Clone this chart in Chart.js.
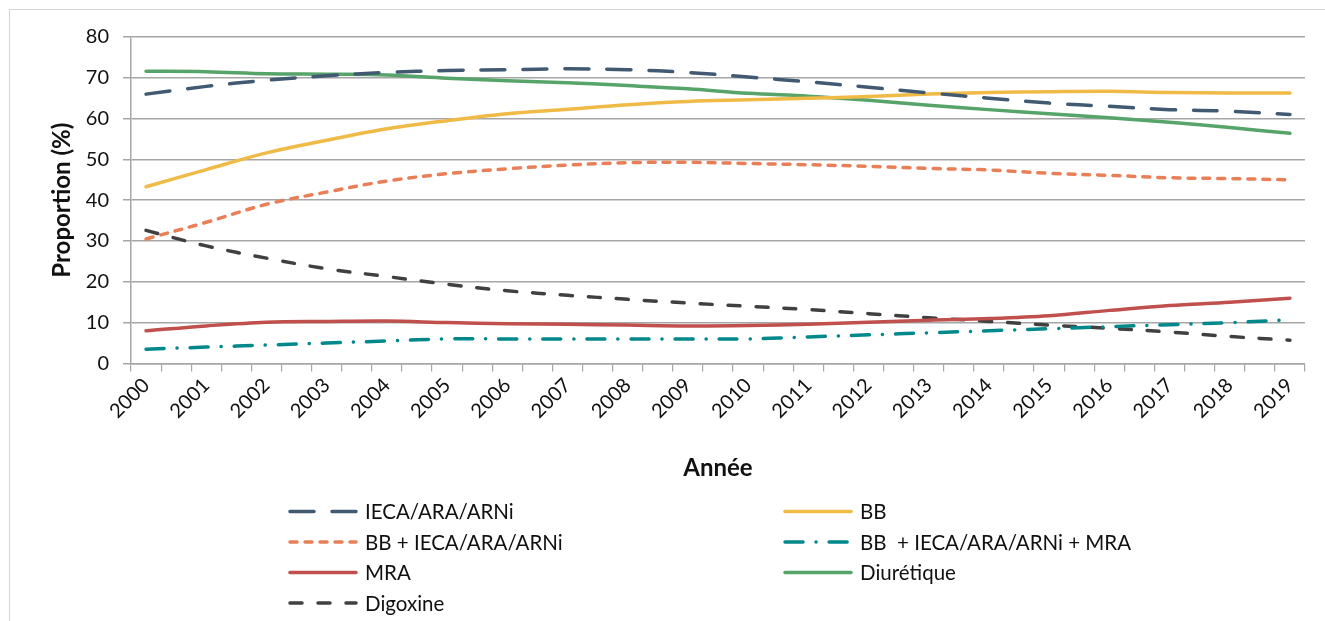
<!DOCTYPE html>
<html lang="fr">
<head>
<meta charset="UTF-8">
<title>Proportion par année</title>
<script src="https://cdn.jsdelivr.net/npm/chart.js"></script>
<style>
    * { margin: 0; padding: 0; box-sizing: border-box; }
    body { width: 1325px; height: 621px; background: #fff; overflow: hidden; position: relative; }
    .frame {
        position: absolute; left: 9px; top: 9px; width: 1400px; height: 700px;
        border-left: 1px solid #d4d4d4; border-top: 1px solid #d4d4d4;
    }
    .wrap { position: absolute; left: 0; top: 0; width: 1325px; height: 621px; }
</style>
</head>
<body>
<div class="frame"></div>
<div class="wrap"><canvas id="chart"></canvas></div>

<script>
    // data
    const years = [2000, 2001, 2002, 2003, 2004, 2005, 2006, 2007, 2008, 2009,
                   2010, 2011, 2012, 2013, 2014, 2015, 2016, 2017, 2018, 2019];
    const yTicks = [0, 10, 20, 30, 40, 50, 60, 70, 80];

    const ieca      = [66.0, 67.9, 69.4, 70.5, 71.3, 71.8, 72.0, 72.2, 72.0, 71.3, 70.2, 69.0, 67.7, 66.3, 65.0, 63.8, 63.0, 62.2, 61.8, 61.0];
    const bb        = [43.3, 47.5, 51.6, 54.7, 57.5, 59.5, 61.2, 62.3, 63.4, 64.2, 64.6, 65.0, 65.4, 66.0, 66.4, 66.6, 66.7, 66.4, 66.3, 66.3];
    const bbIeca    = [30.5, 34.6, 39.0, 42.0, 44.7, 46.5, 47.7, 48.6, 49.2, 49.3, 49.0, 48.7, 48.3, 47.8, 47.4, 46.6, 46.1, 45.5, 45.3, 45.0];
    const bbIecaMra = [3.5, 4.0, 4.5, 5.0, 5.5, 6.0, 6.0, 6.0, 6.0, 6.0, 6.0, 6.5, 7.0, 7.5, 8.0, 8.5, 9.0, 9.5, 10.0, 10.7];
    const mra       = [8.0, 9.2, 10.1, 10.3, 10.4, 10.0, 9.7, 9.6, 9.4, 9.2, 9.3, 9.6, 10.1, 10.6, 11.0, 11.7, 13.0, 14.2, 15.0, 16.0];
    const diuretique= [71.6, 71.5, 71.0, 70.9, 70.7, 69.9, 69.3, 68.8, 68.1, 67.3, 66.2, 65.5, 64.5, 63.3, 62.2, 61.2, 60.2, 59.1, 57.8, 56.4];
    const digoxine  = [32.6, 28.8, 25.8, 23.2, 21.3, 19.4, 17.8, 16.7, 15.7, 14.8, 14.0, 13.2, 12.2, 11.2, 10.3, 9.4, 8.6, 7.7, 6.6, 5.7];

    // the axis has two slots per year, a label on every second one
    const labels = [];
    years.forEach((y, i) => {
        labels.push(String(y));
        if (i < years.length - 1) labels.push(y + '.5');
    });

    function points(values) {
        return values.map((v, i) => ({ x: String(years[i]), y: v }));
    }

    function serie(label, values, color, dash) {
        return {
            label: label,
            data: points(values),
            borderColor: color,
            backgroundColor: color,
            borderWidth: 3.5,
            borderDash: dash,
            borderCapStyle: 'round',
            pointRadius: 0,
            tension: 0.35,
            fill: false
        };
    }

    const font = 'Lato, "Open Sans", sans-serif';

    // two column legend, like the original
    const legendPlugin = {
        id: 'twoColLegend',
        afterDraw(chart) {
            const ctx = chart.ctx;
            const colX = [288, 783];
            const lineLen = 70;
            chart.data.datasets.forEach((ds, i) => {
                const x = colX[i % 2];
                const y = 511.5 + Math.floor(i / 2) * 30.5;
                ctx.save();
                ctx.strokeStyle = ds.borderColor;
                ctx.lineWidth = ds.borderWidth;
                ctx.lineCap = 'round';
                ctx.setLineDash(ds.borderDash || []);
                ctx.beginPath();
                ctx.moveTo(x + 2, y);
                ctx.lineTo(x + lineLen - 2, y);
                ctx.stroke();
                ctx.setLineDash([]);
                ctx.fillStyle = '#111';
                ctx.font = '20.5px ' + font;
                ctx.textBaseline = 'middle';
                ctx.fillText(ds.label, x + lineLen + 7, y + 1);
                ctx.restore();
            });
        }
    };

    const config = {
        type: 'line',
        data: {
            labels: labels,
            datasets: [
                serie('IECA/ARA/ARNi', ieca, '#415a72', [24, 18]),
                serie('BB', bb, '#f0ba47', []),
                serie('BB + IECA/ARA/ARNi', bbIeca, '#e97f56', [7, 8]),
                serie('BB  + IECA/ARA/ARNi + MRA', bbIecaMra, '#00888a', [18, 13, 0.1, 13]),
                serie('MRA', mra, '#c0504d', []),
                serie('Diurétique', diuretique, '#56a46a', []),
                serie('Digoxine', digoxine, '#404040', [12, 16])
            ]
        },
        plugins: [legendPlugin],
        options: {
            responsive: true,
            maintainAspectRatio: false,
            animation: false,
            layout: {
                padding: { left: 48, right: 20, top: 37, bottom: 138 }
            },
            plugins: {
                legend: { display: false },
                tooltip: { enabled: false }
            },
            scales: {
                x: {
                    type: 'category',
                    offset: true,
                    grid: {
                        offset: true,
                        drawOnChartArea: false,
                        drawTicks: true,
                        tickLength: 8,
                        color: '#a6a6a6',
                        lineWidth: 1.2
                    },
                    border: { display: true, color: '#a6a6a6', width: 1.5 },
                    ticks: {
                        autoSkip: false,
                        minRotation: 45,
                        maxRotation: 45,
                        padding: 2,
                        color: '#111',
                        font: { family: font, size: 20 },
                        callback: (val, idx) => (idx % 2 === 0 ? labels[idx] : '')
                    },
                    title: {
                        display: true,
                        text: 'Année',
                        color: '#111',
                        font: { family: font, size: 24, weight: 'bold' },
                        padding: { top: 29, bottom: 0 }
                    }
                },
                y: {
                    min: 0,
                    max: 80,
                    afterBuildTicks: (axis) => { axis.ticks = yTicks.map(v => ({ value: v })); },
                    // pull the axis a bit closer to the title
                    afterFit: (axis) => { axis.width -= 10; },
                    grid: {
                        color: '#a6a6a6',
                        lineWidth: 1.5,
                        drawTicks: true,
                        tickLength: 8
                    },
                    border: { display: true, color: '#a6a6a6', width: 1.5 },
                    ticks: {
                        padding: 14,
                        color: '#111',
                        font: { family: font, size: 20 }
                    },
                    title: {
                        display: true,
                        text: 'Proportion (%)',
                        color: '#111',
                        font: { family: font, size: 24, weight: 'bold' },
                        padding: { top: 0, bottom: 5 }
                    }
                }
            }
        }
    };

    new Chart(document.getElementById('chart'), config);
</script>
</body>
</html>
